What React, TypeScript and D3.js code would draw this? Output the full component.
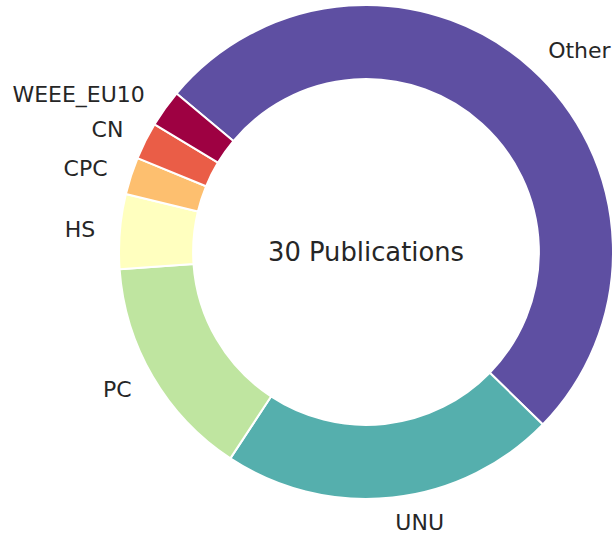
import React from "react";
import * as d3 from "d3";

const categories = ["Other", "UNU", "PC", "HS", "CPC", "CN", "WEEE_EU10"];
const counts = [21, 9, 6, 2, 1, 1, 1];
const colors = ["#5e4fa2", "#55afad", "#bfe5a0", "#ffffbf", "#fdbf6f", "#ea5d47", "#9e0142"];
const centerLabel = "30 Publications";

const W = 613;
const H = 533;
const cx = 366;
const cy = 252;
const R = 247;
const r0 = R * 0.7;
const startDeg = 90 - 140.1; // d3 angle (clockwise from 12 o'clock)

export default function App() {
  const start = (startDeg * Math.PI) / 180;
  const pie = d3
    .pie<number>()
    .sort(null)
    .value((d) => d)
    .startAngle(start)
    .endAngle(start + 2 * Math.PI);
  const arcs = pie(counts);
  const arc = d3.arc<d3.PieArcDatum<number>>().innerRadius(r0).outerRadius(R);
  const font = "DejaVu Sans, sans-serif";
  return (
    <svg
      width={W}
      height={H}
      style={{ position: "absolute", left: 0, top: 0, background: "#fff" }}
    >
      <g transform={`translate(${cx},${cy})`}>
        {arcs.map((a, i) => (
          <path key={categories[i]} d={arc(a) || ""} fill={colors[i]} stroke="#fff" strokeWidth={2} strokeLinejoin="round" />
        ))}
        {arcs.map((a, i) => {
          const mid = (a.startAngle + a.endAngle) / 2;
          const lr = R * 1.1;
          const x = lr * Math.sin(mid);
          const y = -lr * Math.cos(mid);
          return (
            <text
              key={"l" + categories[i]}
              x={x}
              y={y}
              textAnchor={x > 0 ? "start" : "end"}
              dominantBaseline="central"
              fontFamily={font}
              fontSize={22}
              fill="#262626"
            >
              {categories[i]}
            </text>
          );
        })}
        <text
          x={0}
          y={0}
          textAnchor="middle"
          dominantBaseline="central"
          fontFamily={font}
          fontSize={25.8}
          fill="#262626"
        >
          {centerLabel}
        </text>
      </g>
    </svg>
  );
}
